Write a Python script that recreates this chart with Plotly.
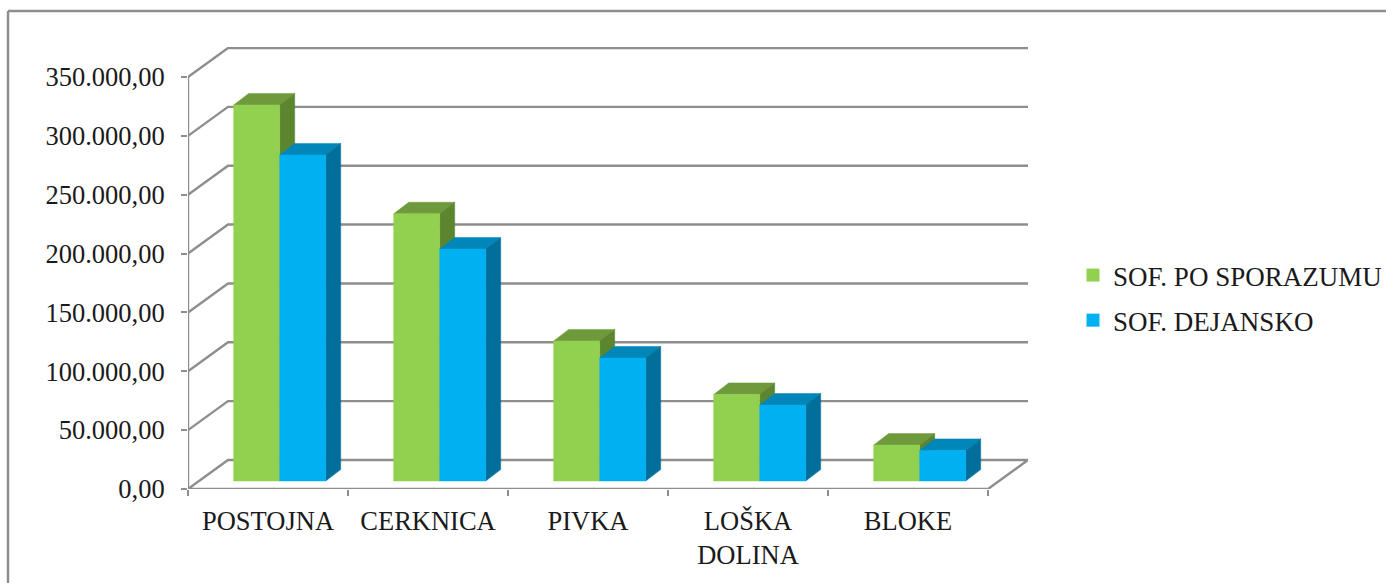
import plotly.graph_objects as go

categories = ["POSTOJNA", "CERKNICA", "PIVKA", "LOŠKA<br>DOLINA", "BLOKE"]
po_sporazumu = [319500, 227000, 119000, 73500, 30500]
dejansko = [277000, 197000, 104500, 64500, 26000]
y_ticks = [0, 50000, 100000, 150000, 200000, 250000, 300000, 350000]
y_labels = ["0,00", "50.000,00", "100.000,00", "150.000,00", "200.000,00", "250.000,00", "300.000,00", "350.000,00"]

PX_X = 1 / 160          # category units per pixel
PX_Y = 350000 / 412     # value units per pixel
WALL_DX, WALL_DY = 40 * PX_X, 29 * PX_Y
BAR_X0, BAR_W = 45.7 * PX_X, 46 * PX_X
BASE_DY = 8 * PX_Y
DEPTH_DX, DEPTH_DY = 15 * PX_X, 11.5 * PX_Y
GRID = "#8e8e8e"
FONT = "Liberation Serif"
L, R, T, B = 188, 1028, 47, 489

fig = go.Figure()


def line(xs, ys):
    fig.add_trace(go.Scatter(x=xs, y=ys, mode="lines", line=dict(color=GRID, width=2.4),
                             showlegend=False, hoverinfo="skip", cliponaxis=False))


def face(xs, ys, color):
    fig.add_trace(go.Scatter(x=xs + xs[:1], y=ys + ys[:1], mode="lines", fill="toself",
                             fillcolor=color, line=dict(color=color, width=0.5),
                             showlegend=False, hoverinfo="skip", cliponaxis=False))


n = len(categories)
for v in y_ticks:
    line([0, WALL_DX, n + WALL_DX] if v else [0, WALL_DX, n + WALL_DX, n, 0],
         [v, v + WALL_DY, v + WALL_DY] if v else [0, WALL_DY, WALL_DY, 0, 0])
line([0, 0], [0, y_ticks[-1]])

series = [
    (po_sporazumu, 0, "#92D050", "#6F9A3C", "#5C8530"),
    (dejansko, 1, "#00B0F0", "#0086B8", "#006F9A"),
]
for i in range(n):
    for vals, s, front, top, side in series:
        x0 = i + BAR_X0 + s * BAR_W
        x1 = x0 + BAR_W
        y0 = BASE_DY
        y1 = BASE_DY + vals[i]
        face([x0, x0 + DEPTH_DX, x1 + DEPTH_DX, x1],
             [y1, y1 + DEPTH_DY, y1 + DEPTH_DY, y1], top)
        face([x1, x1 + DEPTH_DX, x1 + DEPTH_DX, x1],
             [y0, y0 + DEPTH_DY, y1 + DEPTH_DY, y1], side)
        face([x0, x1, x1, x0], [y0, y0, y1, y1], front)

for name, color in [("SOF. PO SPORAZUMU", "#92D050"), ("SOF. DEJANSKO", "#00B0F0")]:
    fig.add_trace(go.Scatter(x=[None], y=[None], mode="markers", name=name, legendgroup=name,
                             marker=dict(symbol="square", size=13, color=color)))

fx = lambda p: (p - L) / (R - L)
fy = lambda p: (B - p) / (B - T)
fig.add_shape(type="line", xref="paper", yref="paper", x0=fx(8), x1=fx(8), y0=fy(583), y1=fy(11),
              line=dict(color=GRID, width=2.5))
fig.add_shape(type="line", xref="paper", yref="paper", x0=fx(8), x1=fx(1386), y0=fy(11), y1=fy(11),
              line=dict(color=GRID, width=2.5))

fig.update_layout(
    width=1386, height=583,
    margin=dict(l=L, r=1386 - R, t=T, b=583 - B, autoexpand=False),
    paper_bgcolor="white", plot_bgcolor="white",
    font=dict(family=FONT, size=26.5, color="#1a1a1a"),
    legend=dict(x=fx(1073), xanchor="left", y=fy(251), yanchor="top", tracegroupgap=7,
                bgcolor="rgba(0,0,0,0)", font=dict(size=27)),
    xaxis=dict(range=[0, n + WALL_DX], tickmode="array", tickvals=[i + 0.5 for i in range(n)],
               ticktext=categories, ticks="", showgrid=False, zeroline=False, showline=False,
               ticklabelstandoff=13,
               minor=dict(tickmode="array", tickvals=list(range(n + 1)), ticks="outside", ticklen=6,
                          tickwidth=2, tickcolor=GRID, showgrid=False)),
    yaxis=dict(range=[0, (B - T) * PX_Y], tickmode="array", tickvals=y_ticks, ticktext=y_labels,
               ticks="outside", ticklen=6, tickwidth=2, tickcolor=GRID, showgrid=False,
               zeroline=False, showline=False, ticklabelstandoff=11),
)
fig.write_html("out.html", config={"displayModeBar": False},
               post_script="document.body.style.margin='0';document.documentElement.style.overflow='hidden';")
